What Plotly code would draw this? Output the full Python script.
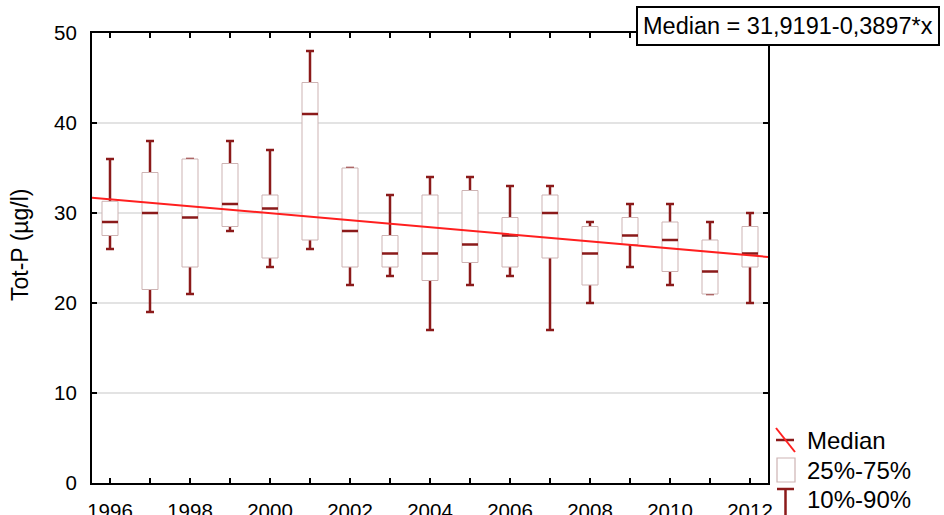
import plotly.graph_objects as go

# ---- data ----
years = [1996, 1997, 1998, 1999, 2000, 2001, 2002, 2003, 2004, 2005, 2006,
         2007, 2008, 2009, 2010, 2011, 2012]
p10 = [26, 19, 21, 28, 24, 26, 22, 23, 17, 22, 23, 17, 20, 24, 22, 21, 20]
p25 = [27.5, 21.5, 24, 28.5, 25, 27, 24, 24, 22.5, 24.5, 24, 25, 22, 26.5, 23.5, 21, 24]
median = [29, 30, 29.5, 31, 30.5, 41, 28, 25.5, 25.5, 26.5, 27.5, 30, 25.5, 27.5, 27, 23.5, 25.5]
p75 = [31.3, 34.5, 36, 35.5, 32, 44.5, 35, 27.5, 32, 32.5, 29.5, 32, 28.5, 29.5, 29, 27, 28.5]
p90 = [36, 38, 36, 38, 37, 48, 35, 32, 34, 34, 33, 33, 29, 31, 31, 29, 30]

fit_intercept = 31.9191
fit_slope = -0.3897
fit_origin = 1995  # x = year - 1995

year_labels = [str(y) if y % 2 == 0 else "" for y in years]
y_ticks = [0, 10, 20, 30, 40, 50]

DARK = "#8b1a1a"
LIGHT = "#cdb3b3"
RED = "#ff1f1f"
FONT = "Liberation Sans, Arial, sans-serif"

x_range = [1995.55, 2012.45]

fig = go.Figure()

# whiskers (zero-height box at the median, hidden under the main box)
fig.add_trace(go.Box(
    x=years, q1=median, median=median, q3=median, lowerfence=p10, upperfence=p90,
    width=0.2, whiskerwidth=1, line=dict(color=DARK, width=2.5),
    fillcolor="white", boxpoints=False, showlegend=False, hoverinfo="skip"))
# 25%-75% box
fig.add_trace(go.Box(
    x=years, q1=p25, median=median, q3=p75, lowerfence=p25, upperfence=p75,
    width=0.4, whiskerwidth=0, line=dict(color=LIGHT, width=1),
    fillcolor="white", boxpoints=False, showlegend=False, hoverinfo="skip"))
# median bars
fig.add_trace(go.Box(
    x=years, q1=median, median=median, q3=median, lowerfence=median, upperfence=median,
    width=0.4, whiskerwidth=0, line=dict(color=DARK, width=2.5),
    fillcolor="rgba(0,0,0,0)", boxpoints=False, showlegend=False, hoverinfo="skip"))

# regression line of the medians
fx = x_range
fy = [fit_intercept + fit_slope * (v - fit_origin) for v in fx]
fig.add_trace(go.Scatter(x=fx, y=fy, mode="lines", line=dict(color=RED, width=2),
                         showlegend=False, hoverinfo="skip"))

fig.update_layout(
    width=944, height=515,
    margin=dict(l=92, r=176, t=33, b=32, autoexpand=False),
    paper_bgcolor="white", plot_bgcolor="white",
    boxmode="overlay",
    font=dict(family=FONT, color="black", size=20),
    showlegend=False,
)
fig.update_xaxes(
    range=x_range, tickvals=years, ticktext=year_labels,
    ticks="inside", ticklen=5, tickwidth=1.5, tickcolor="black",
    showline=True, linewidth=2, linecolor="black", mirror="ticks",
    showgrid=False, zeroline=False, ticklabelstandoff=8, automargin=False,
    tickfont=dict(size=20.5),
)
fig.update_yaxes(
    range=[0, 50], tickvals=y_ticks,
    ticks="inside", ticklen=5, tickwidth=1.5, tickcolor="black",
    showline=True, linewidth=2, linecolor="black", mirror="ticks",
    showgrid=True, gridcolor="#e3e3e3", gridwidth=1.5, zeroline=False,
    ticklabelstandoff=9, automargin=False, tickfont=dict(size=20.5),
)

def px(x):
    return (x - 92) / 676

def py(y):
    return (483 - y) / 450

# y-axis title
fig.add_annotation(x=px(20), y=py(245), xref="paper", yref="paper",
                   text="Tot-P (µg/l)", textangle=-90, showarrow=False,
                   font=dict(size=23), xanchor="center", yanchor="middle")

# equation box
fig.add_annotation(x=px(940), y=py(26.5), xref="paper", yref="paper",
                   text="Median = 31,9191-0,3897*x", showarrow=False,
                   xanchor="right", yanchor="middle",
                   font=dict(size=23.5), bgcolor="white",
                   bordercolor="black", borderwidth=2, borderpad=5)

# legend
shapes = [
    dict(type="line", x0=px(776), x1=px(794), y0=py(440), y1=py(440),
         line=dict(color=DARK, width=2.5)),
    dict(type="line", x0=px(776), x1=px(795), y0=py(428), y1=py(452),
         line=dict(color=RED, width=2)),
    dict(type="rect", x0=px(777), x1=px(795), y0=py(458), y1=py(482),
         line=dict(color=LIGHT, width=1.2), fillcolor="white"),
    dict(type="line", x0=px(777), x1=px(794), y0=py(489), y1=py(489),
         line=dict(color=DARK, width=2.5)),
    dict(type="line", x0=px(785.5), x1=px(785.5), y0=py(489), y1=py(520),
         line=dict(color=DARK, width=2.5)),
]
for s in shapes:
    fig.add_shape(xref="paper", yref="paper", layer="above", **s)

for label, yy in [("Median", 440), ("25%-75%", 470), ("10%-90%", 499)]:
    fig.add_annotation(x=px(805), y=py(yy), xref="paper", yref="paper",
                       text=label, showarrow=False, xanchor="left", yanchor="middle",
                       font=dict(size=24))

fig.write_html("out.html")
